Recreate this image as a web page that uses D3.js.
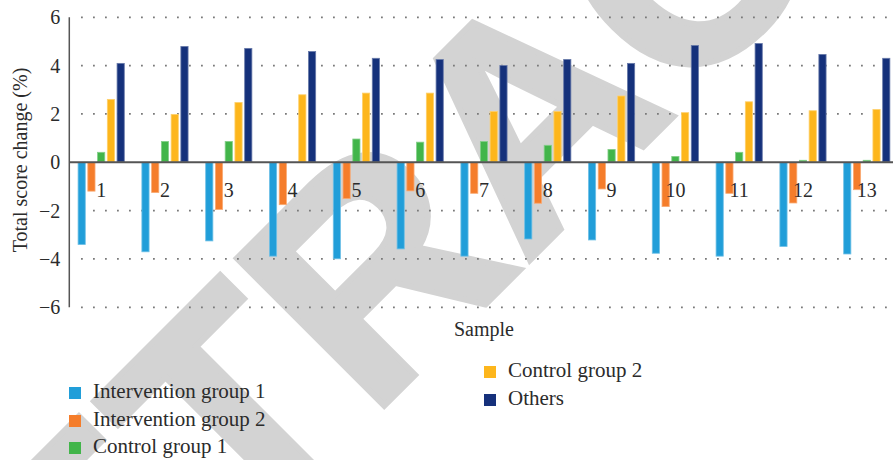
<!DOCTYPE html>
<html>
<head>
<meta charset="utf-8">
<script src="https://cdn.jsdelivr.net/npm/d3@7"></script>
<style>
  html, body { margin: 0; padding: 0; background: #fff; }
  svg { display: block; }
  text { font-family: "Liberation Serif", "DejaVu Serif", serif; fill: #2b2b2b; }
</style>
</head>
<body>
<svg id="chart" width="893" height="460"></svg>
<script>
// Samples along the x axis
const categories = ["1","2","3","4","5","6","7","8","9","10","11","12","13"];

// Series names, in legend order
const seriesNames = ["Intervention group 1","Intervention group 2","Control group 1","Control group 2","Others"];

// Total score change (%) per sample
const intervention1 = [-3.42,-3.72,-3.27,-3.90,-4.01,-3.60,-3.90,-3.19,-3.23,-3.78,-3.90,-3.50,-3.81];
const intervention2 = [-1.21,-1.27,-1.97,-1.77,-1.52,-1.20,-1.30,-1.71,-1.12,-1.85,-1.30,-1.70,-1.15];
const control1      = [0.43,0.88,0.88,0.00,0.98,0.85,0.88,0.72,0.55,0.26,0.43,0.10,0.10];
const control2      = [2.62,2.00,2.49,2.81,2.88,2.88,2.12,2.12,2.76,2.07,2.52,2.15,2.20];
const others        = [4.11,4.81,4.73,4.60,4.32,4.27,4.02,4.27,4.11,4.85,4.93,4.48,4.32];

// Y axis ticks
const yTicks = [-6,-4,-2,0,2,4,6];

const seriesValues = [intervention1, intervention2, control1, control2, others];
const colors = ["#219ed9","#f57d2b","#42b54a","#fdb61c","#15317b"];

const svg = d3.select("#chart");

// Watermark stamped diagonally across the figure
svg.append("text")
  .attr("transform", "translate(-58.6,848.6) rotate(-45)")
  .attr("x", 0).attr("y", 0)
  .style("font-family", "'Liberation Sans', Arial, sans-serif")
  .style("font-weight", "bold")
  .style("font-size", "303px")
  .style("fill", "#d3d3d3")
  .style("stroke", "#d3d3d3")
  .style("stroke-width", 6)
  .style("stroke-linejoin", "miter")
  .text("RETRACTED");

const left = 69.3, step = 63.8;
const x = d3.scaleBand().domain(categories)
  .range([left, left + step * categories.length]).padding(0);
const xs = d3.scaleBand().domain(seriesNames)
  .range([7.5, 56.25]).paddingInner(0.18).paddingOuter(0.09);
const y = d3.scaleLinear().domain([-6, 6]).range([307.3, 17.3]);

// Dotted gridlines
svg.append("g").selectAll("line")
  .data(yTicks.filter(t => t !== 0))
  .join("line")
  .attr("x1", 81).attr("x2", 893)
  .attr("y1", d => y(d)).attr("y2", d => y(d))
  .attr("stroke", "#7a7a7a")
  .attr("stroke-width", 1.8)
  .attr("stroke-dasharray", "1.8,10.2");

// Bars, each with a faint lighter rim
const groups = svg.append("g").selectAll("g")
  .data(categories)
  .join("g")
  .attr("transform", d => `translate(${x(d)},0)`);

groups.selectAll("rect")
  .data((c, i) => seriesNames.map((s, k) => ({ s, k, v: seriesValues[k][i] })))
  .join("rect")
  .attr("x", d => xs(d.s) + 0.4)
  .attr("width", xs.bandwidth() - 0.8)
  .attr("y", d => y(Math.max(0, d.v)) + 0.4)
  .attr("height", d => Math.max(0, Math.abs(y(d.v) - y(0)) - 0.8))
  .attr("fill", d => colors[d.k])
  .attr("stroke", d => d3.interpolateRgb(colors[d.k], "#ffffff")(0.35))
  .attr("stroke-width", 0.8);

// Zero line and y axis line
svg.append("line")
  .attr("x1", left).attr("x2", 893)
  .attr("y1", y(0)).attr("y2", y(0))
  .attr("stroke", "#555").attr("stroke-width", 2);
svg.append("line")
  .attr("x1", left).attr("x2", left)
  .attr("y1", y(6)).attr("y2", y(-6))
  .attr("stroke", "#555").attr("stroke-width", 1.5);

// Y tick labels
const yAxis = d3.axisLeft(y).tickValues(yTicks).tickSize(0).tickPadding(9)
  .tickFormat(d => d < 0 ? "\u2212" + Math.abs(d) : String(d));
const ya = svg.append("g").attr("transform", `translate(${left},0)`).call(yAxis);
ya.select(".domain").remove();
ya.selectAll("text")
  .style("font-family", "'Liberation Serif', serif")
  .style("font-size", "20px").style("fill", "#2b2b2b");

// Sample labels below the zero line
svg.append("g").selectAll("text")
  .data(categories)
  .join("text")
  .attr("x", d => x(d) + x.bandwidth() / 2)
  .attr("y", 197)
  .attr("text-anchor", "middle")
  .style("font-size", "20px")
  .text(d => d);

// Axis titles
svg.append("text")
  .attr("transform", "translate(27,160) rotate(-90)")
  .attr("text-anchor", "middle")
  .style("font-size", "20px")
  .text("Total score change (%)");
svg.append("text")
  .attr("x", 484).attr("y", 336)
  .attr("text-anchor", "middle")
  .style("font-size", "20px")
  .text("Sample");

// Legend
const legendPos = [
  { x: 69, y: 387 }, { x: 69, y: 415 }, { x: 69, y: 442 },
  { x: 484, y: 366 }, { x: 484, y: 394 }
];
const legend = svg.append("g").selectAll("g")
  .data(seriesNames)
  .join("g")
  .attr("transform", (d, i) => `translate(${legendPos[i].x},${legendPos[i].y})`);
legend.append("rect")
  .attr("width", 12).attr("height", 12)
  .attr("fill", (d, i) => colors[i]);
legend.append("text")
  .attr("x", 24).attr("y", 11)
  .style("font-size", "21px")
  .text(d => d);
</script>
</body>
</html>
